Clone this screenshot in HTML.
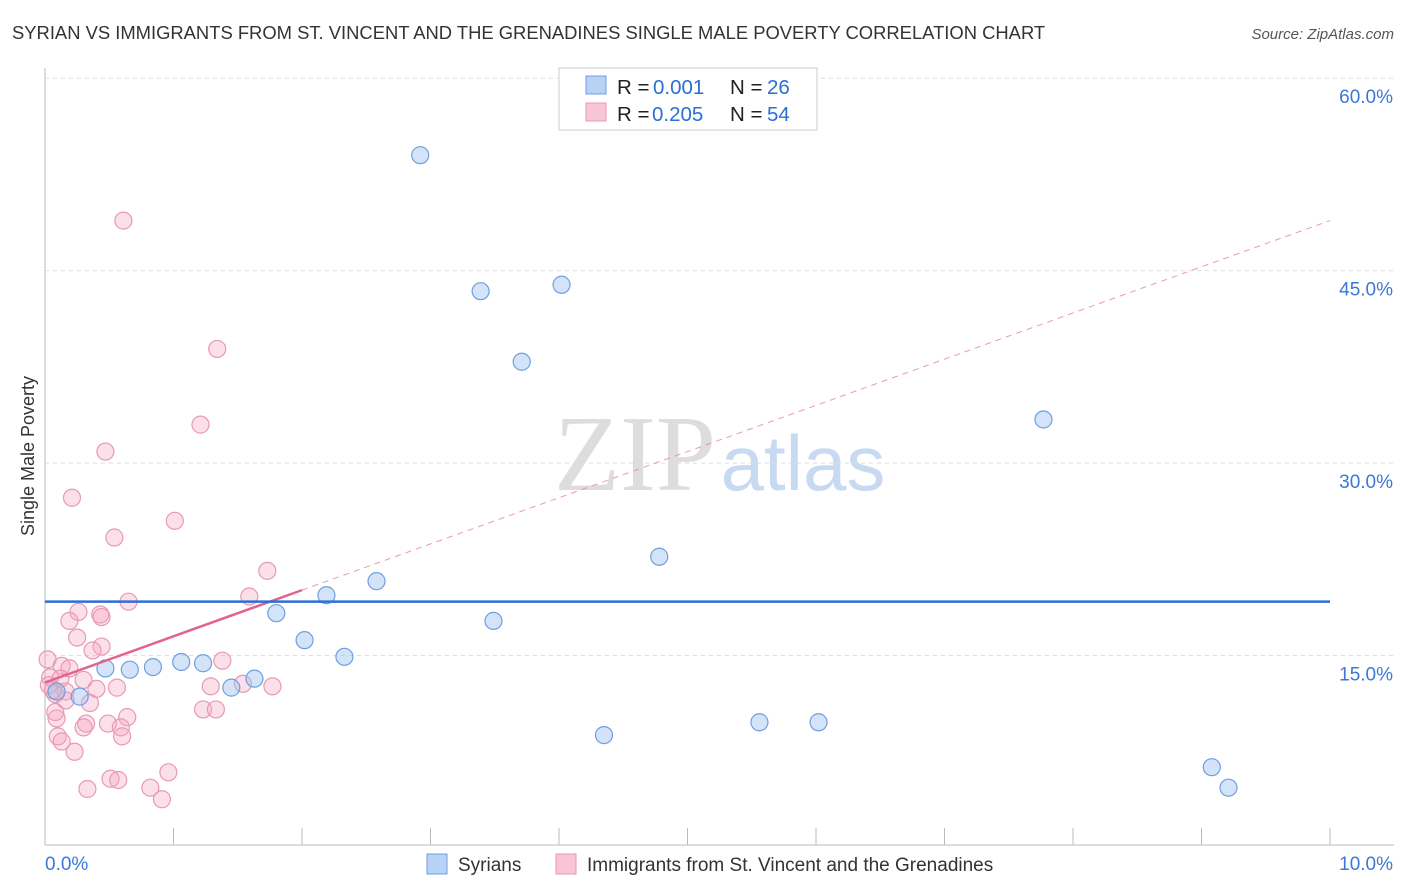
<!DOCTYPE html><html><head><meta charset="utf-8"><style>
body{margin:0;background:#fff;font-family:"Liberation Sans",sans-serif}
</style></head><body>
<svg id="c" width="1406" height="892" style="display:block">
<text x="12" y="39" font-size="18.4" fill="#333">SYRIAN VS IMMIGRANTS FROM ST. VINCENT AND THE GRENADINES SINGLE MALE POVERTY CORRELATION CHART</text>
<text x="1394" y="39" font-size="15" fill="#555" text-anchor="end" font-style="italic">Source: ZipAtlas.com</text>
<text x="0" y="0" transform="translate(34,456) rotate(-90)" font-size="18" fill="#333" text-anchor="middle">Single Male Poverty</text>
<text x="635" y="490" font-size="108" fill="#ddd" font-family="Liberation Serif" text-anchor="middle">ZIP</text>
<text x="803" y="490" font-size="78" fill="#c8daf2" text-anchor="middle">atlas</text>
<g id="grid"></g><g id="marks"></g>
<g>
<rect x="559" y="68" width="258" height="62" fill="#fff" stroke="#ccc"/>
<rect x="586" y="76" width="20" height="18" fill="#b8d2f5" stroke="#6f9fe0"/>
<rect x="586" y="103" width="20" height="18" fill="#f8c5d5" stroke="#e899b3"/>
<text x="617" y="94" font-size="20.5" fill="#222">R =</text>
<text x="653" y="94" font-size="20.5" fill="#2b6fd6">0.001</text>
<text x="730" y="94" font-size="20.5" fill="#222">N =</text>
<text x="767" y="94" font-size="20.5" fill="#2b6fd6">26</text>
<text x="617" y="121" font-size="20.5" fill="#222">R =</text>
<text x="652" y="121" font-size="20.5" fill="#2b6fd6">0.205</text>
<text x="730" y="121" font-size="20.5" fill="#222">N =</text>
<text x="767" y="121" font-size="20.5" fill="#2b6fd6">54</text>
</g>
<g>
<rect x="427" y="854" width="20" height="20" fill="#b8d2f5" stroke="#6f9fe0"/>
<text x="458" y="871" font-size="19" fill="#333">Syrians</text>
<rect x="556" y="854" width="20" height="20" fill="#f8c5d5" stroke="#e899b3"/>
<text x="587" y="871" font-size="19" fill="#333">Immigrants from St. Vincent and the Grenadines</text>
</g>
</svg>
<script>
const xTicks=[0,1,2,3,4,5,6,7,8,9,10];
const yTicks=[15,30,45,60];
const blueX=[2.92,3.39,4.02,3.71,7.77,4.78,2.58,2.19,1.80,3.49,2.02,2.33,1.06,1.23,0.84,0.66,0.47,1.63,1.45,0.27,0.09,4.35,5.56,6.02,9.08,9.21];
const blueY=[54.0,43.4,43.9,37.9,33.4,22.7,20.8,19.7,18.3,17.7,16.2,14.9,14.5,14.4,14.1,13.9,14.0,13.2,12.5,11.8,12.2,8.8,9.8,9.8,6.3,4.7];
const pinkX=[0.61,1.34,1.21,0.47,0.21,1.01,0.54,1.73,1.59,0.65,0.26,0.43,0.44,0.19,0.25,0.44,0.37,1.38,0.02,0.13,0.19,0.04,0.30,1.29,1.54,1.77,0.56,0.40,0.16,0.08,0.35,0.09,0.64,0.49,0.32,0.59,0.30,1.23,1.33,0.10,0.60,0.13,0.23,0.96,0.51,0.57,0.33,0.82,0.91,0.06,0.03,0.12,0.16,0.08];
const pinkY=[48.9,38.9,33.0,30.9,27.3,25.5,24.2,21.6,19.6,19.2,18.4,18.2,18.0,17.7,16.4,15.7,15.4,14.6,14.7,14.2,14.0,13.3,13.1,12.6,12.8,12.6,12.5,12.4,12.2,12.0,11.3,10.1,10.2,9.7,9.7,9.4,9.4,10.8,10.8,8.7,8.7,8.3,7.5,5.9,5.4,5.3,4.6,4.7,3.8,12.3,12.7,13.2,11.5,10.6];
const blueTrend=[19.2,19.2];
const pinkTrend=[12.9,48.9];
const pinkSolidEnd=2.0;
const X=v=>45+v*128.5, Y=v=>848-v*12.83;
const NS="http://www.w3.org/2000/svg";
const grid=document.getElementById('grid'),marks=document.getElementById('marks');
function mk(p,tag,a){const e=document.createElementNS(NS,tag);for(const k in a)e.setAttribute(k,a[k]);p.appendChild(e);return e;}
let ax=mk(grid,'line',{x1:45,y1:68,x2:45,y2:845,stroke:'#bbb'});


let bx=mk(grid,'line',{x1:45,y1:845,x2:1394,y2:845,stroke:'#bbb'});


yTicks.forEach(t=>{const g=mk(grid,'line',{x1:45,y1:Y(t),x2:1394,y2:Y(t),stroke:'#ddd','stroke-dasharray':'4,4'});


const l=mk(grid,'text',{x:1393,y:Y(t)+25,'font-size':19,fill:'#3b78d8','text-anchor':'end'});l.textContent=t.toFixed(1)+'%';

});
xTicks.forEach(t=>{const g=mk(grid,'line',{x1:X(t),y1:828,x2:X(t),y2:845,stroke:'#bbb'});

});
[[0,'start'],[10,'end']].forEach(([t,an])=>{const l=mk(grid,'text',{x:an=='start'?X(t):1393,y:870,'font-size':19,fill:'#3b78d8','text-anchor':an});l.textContent=t.toFixed(1)+'%';

});
pinkX.forEach((x,i)=>{const c=mk(marks,'circle',{cx:X(x),cy:Y(pinkY[i]),r:8.5,fill:'rgba(245,165,192,0.35)',stroke:'#e899b3','stroke-width':1.2});

});
blueX.forEach((x,i)=>{const c=mk(marks,'circle',{cx:X(x),cy:Y(blueY[i]),r:8.5,fill:'rgba(160,195,240,0.45)',stroke:'#6f9fe0','stroke-width':1.2});

});
const f=x=>pinkTrend[0]+(pinkTrend[1]-pinkTrend[0])*x/10;
let d=mk(marks,'line',{x1:X(pinkSolidEnd),y1:Y(f(pinkSolidEnd)),x2:X(10),y2:Y(f(10)),stroke:'#e899b3','stroke-dasharray':'6,5','stroke-width':1});


let s=mk(marks,'line',{x1:X(0),y1:Y(f(0)),x2:X(pinkSolidEnd),y2:Y(f(pinkSolidEnd)),stroke:'#e4628f','stroke-width':2.5});


let b=mk(marks,'line',{x1:X(0),y1:Y(blueTrend[0]),x2:X(10),y2:Y(blueTrend[1]),stroke:'#2f6fd0','stroke-width':2.5});


</script></body></html>
